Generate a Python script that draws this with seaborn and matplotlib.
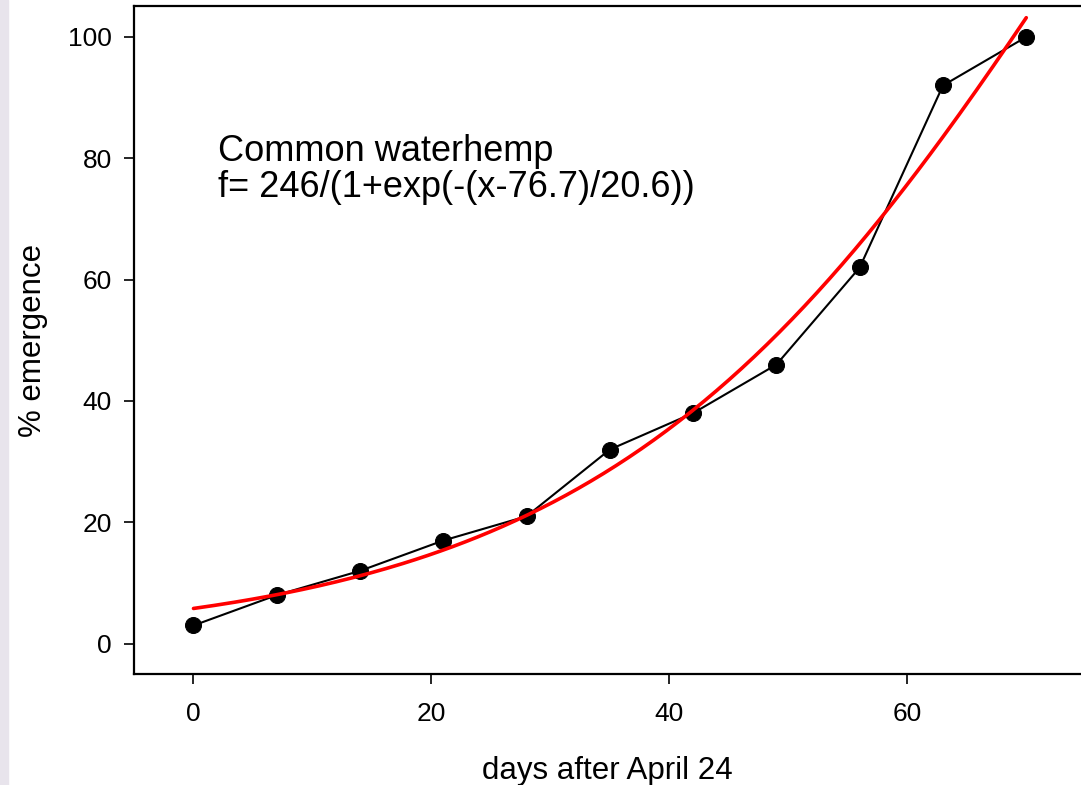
import matplotlib
matplotlib.use('Agg')
import matplotlib.pyplot as plt
import numpy as np
import pandas as pd
import seaborn as sns

# observed emergence
days = [0, 7, 14, 21, 28, 35, 42, 49, 56, 63, 70]
emergence = [3, 8, 12, 17, 21, 32, 38, 46, 62, 92, 100]

# fitted logistic parameters (from the annotation)
fit_a = 246
fit_x0 = 76.7
fit_b = 20.6

species = 'Common waterhemp'
equation = 'f= 246/(1+exp(-(x-76.7)/20.6))'

sns.set_theme(style='ticks')
plt.rcParams['font.family'] = ['Liberation Sans', 'DejaVu Sans']
plt.rcParams['text.color'] = 'black'
plt.rcParams['axes.labelcolor'] = 'black'

obs = pd.DataFrame({'days': days, 'emergence': emergence})
x_fit = np.linspace(min(days), max(days), 200)
fit = pd.DataFrame({'days': x_fit,
                    'emergence': fit_a / (1 + np.exp(-(x_fit - fit_x0) / fit_b))})

fig = plt.figure(figsize=(10.81, 7.85), dpi=100)
fig.patches.append(plt.Rectangle((0, 0), 8 / 1081, 1, transform=fig.transFigure,
                                 color='#e8e4ec', zorder=0))
ax = fig.add_axes([134 / 1081, 1 - 674 / 785, 1 - 134 / 1081, (674 - 6) / 785])

sns.lineplot(data=obs, x='days', y='emergence', ax=ax, color='black', lw=1.5,
             marker='o', markersize=11.5, markeredgecolor='black')
sns.lineplot(data=fit, x='days', y='emergence', ax=ax, color='red', lw=2.6)

ax.set_xlim(-5, 74.6)
ax.set_ylim(-5, 105.1)
ax.set_xticks([0, 20, 40, 60])
ax.set_yticks([0, 20, 40, 60, 80, 100])
ax.spines['right'].set_visible(False)
for s in ['top', 'left', 'bottom']:
    ax.spines[s].set_linewidth(1.6)
    ax.spines[s].set_color('black')
ax.tick_params(direction='out', length=7, width=1.2, labelsize=19, colors='black')
ax.tick_params(axis='x', pad=13)
ax.tick_params(axis='y', pad=9)

ax.set_xlabel('days after April 24', fontsize=22.5, labelpad=22)
ax.set_ylabel('% emergence', fontsize=22.5, labelpad=14)

ax.text(2.1, 79.6, species, fontsize=26, va='baseline', ha='left')
ax.text(2.1, 73.6, equation, fontsize=26, va='baseline', ha='left')

fig.savefig('out.png', dpi=100)
